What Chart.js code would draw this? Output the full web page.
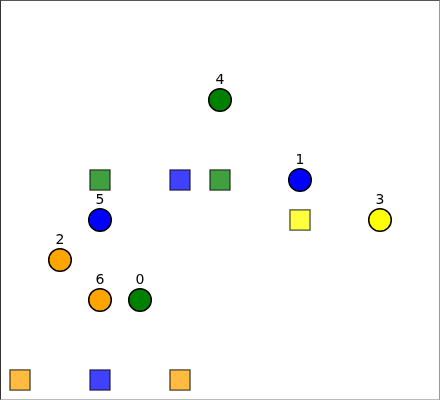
<!DOCTYPE html>
<html>
<head>
<meta charset="utf-8">
<script src="https://cdn.jsdelivr.net/npm/chart.js@4/dist/chart.umd.min.js"></script>
<style>
  body { margin: 0; background: #fff; }
  #wrap { position: relative; width: 440px; height: 400px; }
  #frame {
    position: absolute; left: 0; top: 0; width: 440px; height: 400px; box-sizing: border-box;
    border-top: 1px solid #555; border-left: 1px solid #333;
    border-right: 1px solid #999; border-bottom: 1px solid #bbb;
    pointer-events: none;
  }
</style>
</head>
<body>
<div id="wrap"><canvas id="chart"></canvas><div id="frame"></div></div>
<script>
// labelled nodes (circles)
var nodeLabels = ["0", "1", "2", "3", "4", "5", "6"]
var nodeX = [140, 300, 60, 380, 220, 100, 100]
var nodeY = [300, 180, 260, 220, 100, 220, 300]
var nodeColors = ["#008000", "#0000ff", "#ffa500", "#ffff00", "#008000", "#0000ff", "#ffa500"]

// unlabelled squares
var boxX = [100, 180, 220, 300, 20, 100, 180]
var boxY = [180, 180, 180, 220, 380, 380, 380]
var boxColors = ["rgba(0,128,0,0.75)", "rgba(0,0,255,0.75)", "rgba(0,128,0,0.75)", "rgba(255,255,0,0.75)",
                 "rgba(255,165,0,0.75)", "rgba(0,0,255,0.75)", "rgba(255,165,0,0.75)"]

const nodePoints = nodeX.map((x, i) => ({x: x, y: nodeY[i]}))
const boxPoints = boxX.map((x, i) => ({x: x, y: boxY[i]}))

const nodeLabelPlugin = {
    id: 'nodeLabels',
    afterDatasetsDraw(chart) {
        const ctx = chart.ctx
        const xs = chart.scales.x, ys = chart.scales.y
        ctx.save()
        ctx.font = '14px "DejaVu Sans"'
        ctx.fillStyle = '#000'
        ctx.textAlign = 'center'
        ctx.textBaseline = 'alphabetic'
        nodePoints.forEach((p, i) => {
            ctx.fillText(nodeLabels[i], xs.getPixelForValue(p.x), ys.getPixelForValue(p.y) - 16)
        })
        ctx.restore()
    }
}

const config = {
    type: 'scatter',
    data: {
        datasets: [{
            data: boxPoints,
            pointStyle: 'rect',
            pointRadius: 14.2,
            pointHoverRadius: 14.2,
            backgroundColor: boxColors,
            borderColor: "rgba(0,0,0,0.7)",
            borderWidth: 1.3,
            clip: false,
        }, {
            data: nodePoints,
            pointStyle: 'circle',
            pointRadius: 11.3,
            pointHoverRadius: 11.3,
            backgroundColor: nodeColors,
            borderColor: "#000",
            borderWidth: 1.5,
            clip: false,
        }]
    },
    options: {
        animation: false,
        responsive: true,
        maintainAspectRatio: false,
        layout: { padding: 0, autoPadding: false },
        scales: {
            x: { type: 'linear', display: false, min: 0, max: 440 },
            y: { type: 'linear', display: false, min: 0, max: 400, reverse: true },
        },
        plugins: {
            legend: { display: false },
            tooltip: { enabled: false },
        },
    },
    plugins: [nodeLabelPlugin],
}

const chart = new Chart(document.getElementById('chart'), config)
</script>
</body>
</html>
